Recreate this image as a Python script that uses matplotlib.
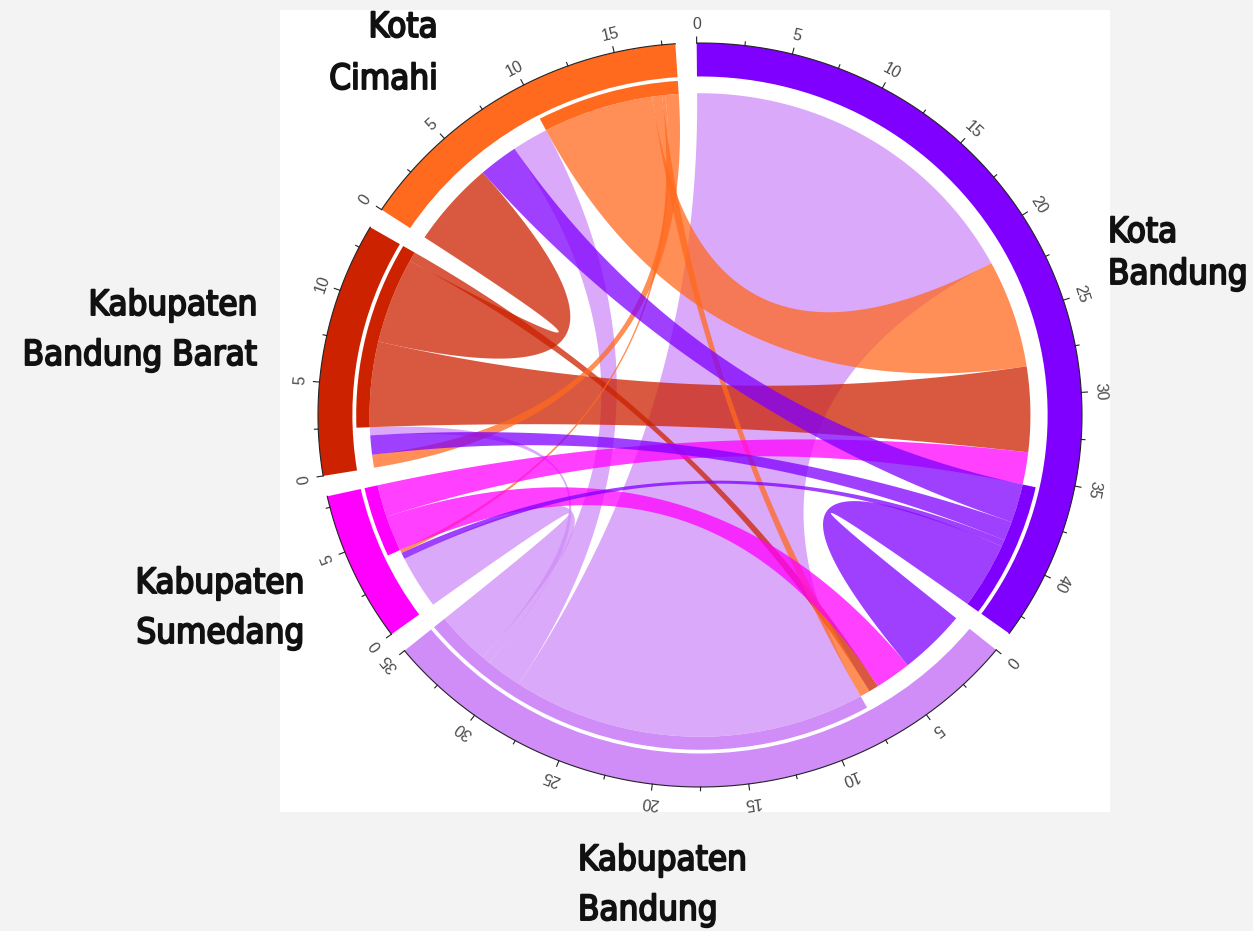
import numpy as np
import matplotlib
matplotlib.use('Agg')
import matplotlib.pyplot as plt
from matplotlib.patches import Polygon, Wedge, Rectangle
from matplotlib import font_manager
import matplotlib.patheffects as pe

# sectors, clockwise from the top
sectors = ['Kota Bandung', 'Kabupaten Bandung', 'Kabupaten Sumedang',
           'Kabupaten Bandung Barat', 'Kota Cimahi']
labels = [['Kota', 'Bandung'], ['Kabupaten', 'Bandung'], ['Kabupaten', 'Sumedang'],
          ['Kabupaten', 'Bandung Barat'], ['Kota', 'Cimahi']]
colors = ['#7f00ff', '#d08cf7', '#ff00ff', '#cc2200', '#ff6a1f']

# flows[origin][destination]
flows = [
    [0.0, 4.1, 0.4, 1.2, 2.4],
    [21.5, 0.0, 3.3, 0.5, 2.2],
    [2.0, 2.2, 0.0, 0.0, 0.0],
    [5.3, 0.6, 0.0, 0.0, 5.3],
    [6.7, 0.6, 0.2, 0.8, 0.0],
]

# order of link ends inside each sector (incoming first, then outgoing)
in_order = [[1, 4, 3, 2], [0, 2, 3, 4], [1, 0, 4], [4, 0, 1], [3, 0, 1]]
out_order = [[4, 3, 2, 1], [0, 4, 3, 2], [1, 0], [0, 4, 1], [0, 1, 2, 3]]

names = {f.name for f in font_manager.fontManager.ttflist}
if 'Liberation Sans Narrow' in names:
    label_font = dict(family='Liberation Sans Narrow', size=30)
else:
    label_font = dict(family='DejaVu Sans', stretch='condensed', size=25)

flows = np.array(flows)
n = len(sectors)
totals = flows.sum(axis=1) + flows.sum(axis=0)
gap = 3.2
unit = (360 - n * gap) / totals.sum()
start = [90.5 - totals[:k].sum() * unit - k * gap for k in range(n)]


def ang(k, v):
    return np.radians(start[k] - v * unit)


pos_in, pos_out, out_from = {}, {}, []
for k in range(n):
    c = 0.0
    for s in in_order[k]:
        pos_in[(s, k)] = (c, c + flows[s, k])
        c += flows[s, k]
    out_from.append(c)
    for d in out_order[k]:
        pos_out[(k, d)] = (c, c + flows[k, d])
        c += flows[k, d]

fig = plt.figure(figsize=(12.53, 9.31), dpi=100, facecolor='#f3f3f3')
fig.patches.append(Rectangle((280 / 1253, 1 - 812 / 931), 830 / 1253, 802 / 931,
                             transform=fig.transFigure, facecolor='white',
                             edgecolor='none', zorder=-5))

# axes placed so the circle centre sits at (700, 415) px, rx=382, ry=372
xl, yl = (-1.2, 1.2), (-1.15, 1.1)
w = (xl[1] - xl[0]) * 382 / 1253
h = (yl[1] - yl[0]) * 372 / 931
left = (700 + xl[0] * 382) / 1253
bottom = (931 - 415 + yl[0] * 372) / 931
ax = fig.add_axes([left, bottom, w, h])
ax.set_xlim(*xl)
ax.set_ylim(*yl)
ax.axis('off')
ax.patch.set_alpha(0)

r_link = 0.865
r_in, r_out = 0.91, 1.0


def arc(k, v1, v2, r, m=40):
    t = np.linspace(ang(k, v1), ang(k, v2), m)
    return np.column_stack([r * np.cos(t), r * np.sin(t)])


def bez(p0, p2, m=80):
    t = np.linspace(0, 1, m)[:, None]
    return (1 - t) ** 2 * p0 + t ** 2 * p2


def link(i, j):
    a1, a2 = pos_out[(i, j)]
    b1, b2 = pos_in[(i, j)]
    A = arc(i, a1, a2, r_link)
    B = arc(j, b1, b2, r_link)
    pts = np.vstack([A, bez(A[-1], B[0]), B, bez(B[-1], A[0])])
    ax.add_patch(Polygon(pts, closed=True, facecolor=colors[i], alpha=0.75,
                         edgecolor='none', zorder=2))


for i in [1, 3, 4, 2, 0]:
    for j in out_order[i]:
        link(i, j)

for k in range(n):
    t1 = start[k] - totals[k] * unit
    ax.add_patch(Wedge((0, 0), r_out, t1, start[k], width=r_out - r_in,
                       facecolor=colors[k], edgecolor='none', zorder=3))
    ax.add_patch(Wedge((0, 0), 0.90, t1, start[k] - out_from[k] * unit,
                       width=0.90 - r_link, facecolor=colors[k],
                       edgecolor='none', zorder=3))
    # axis
    A = arc(k, 0, totals[k], r_out, 120)
    ax.plot(A[:, 0], A[:, 1], color='#222222', lw=0.8, zorder=4)
    for v in np.arange(0, totals[k] + 1e-9, 2.5):
        major = abs(v % 5) < 1e-9
        t = ang(k, v)
        l = 0.016 if major else 0.01
        ax.plot([r_out * np.cos(t), (r_out + l) * np.cos(t)],
                [r_out * np.sin(t), (r_out + l) * np.sin(t)],
                color='#222222', lw=0.8, zorder=4)
        if major:
            ax.text(1.05 * np.cos(t), 1.05 * np.sin(t), '%d' % v,
                    rotation=np.degrees(t) - 90, rotation_mode='anchor',
                    ha='center', va='center', fontsize=11.5, color='#4a4a4a',
                    family='Liberation Sans')

# sector names: x, baseline of each line (px from top), alignment
label_pos = [(1108, (242, 284), 'left'), (578, (870, 920), 'left'),
             (305, (593, 643), 'right'), (258, (315, 365), 'right'),
             (438, (37, 89), 'right')]
thick = [pe.withStroke(linewidth=1.4, foreground='#111111')]
for k, (x, ys, ha) in enumerate(label_pos):
    for line, y in zip(labels[k], ys):
        fig.text(x / 1253, 1 - y / 931, line, ha=ha, va='baseline',
                 color='#111111', path_effects=thick, **label_font)

fig.savefig('out.png', dpi=100, facecolor=fig.get_facecolor())
